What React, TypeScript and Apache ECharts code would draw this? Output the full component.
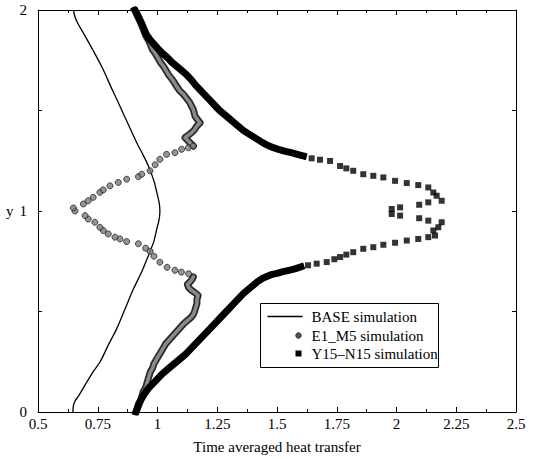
import React, { useEffect, useRef } from "react";
import * as echarts from "echarts";

// BASE simulation: [heat transfer, y]
const baseData: number[][] = [
  [0.646, 0.0], [0.648, 0.03], [0.655, 0.055], [0.67, 0.08], [0.69, 0.12], [0.725, 0.19],
  [0.76, 0.25], [0.795, 0.335], [0.83, 0.416], [0.865, 0.515], [0.9, 0.614], [0.935, 0.7],
  [0.962, 0.779], [0.985, 0.85], [0.997, 0.911], [1.007, 0.96], [1.01, 1.0], [1.007, 1.04],
  [0.997, 1.093], [0.985, 1.15], [0.962, 1.224], [0.935, 1.29], [0.913, 1.34], [0.878, 1.43],
  [0.843, 1.521], [0.808, 1.61], [0.773, 1.703], [0.73, 1.8], [0.69, 1.885], [0.668, 1.93],
  [0.655, 1.965], [0.648, 2.0],
];

// E1_M5 simulation: lower part (densely packed points)
const e1Lower: number[][] = [
  [0.91, 0.0], [0.915, 0.02], [0.92, 0.04], [0.93, 0.06], [0.935, 0.08], [0.94, 0.1],
  [0.95, 0.12], [0.955, 0.14], [0.96, 0.16], [0.965, 0.18], [0.97, 0.2], [0.98, 0.22],
  [0.985, 0.24], [0.995, 0.26], [1.005, 0.28], [1.015, 0.3], [1.025, 0.32], [1.035, 0.34],
  [1.05, 0.36], [1.065, 0.38], [1.08, 0.4], [1.095, 0.42], [1.11, 0.44], [1.125, 0.455],
  [1.14, 0.47], [1.15, 0.485], [1.155, 0.5], [1.16, 0.52], [1.165, 0.54], [1.165, 0.56],
  [1.17, 0.58], [1.155, 0.595], [1.143, 0.605], [1.13, 0.62], [1.125, 0.635], [1.136, 0.647],
  [1.145, 0.66], [1.15, 0.672],
];
// E1_M5 simulation: dotted arc around the centre
const e1Middle: number[][] = [
  [1.13, 0.688], [1.1, 0.696], [1.073, 0.705], [1.04, 0.72], [1.01, 0.745], [0.985, 0.775],
  [0.969, 0.8], [0.95, 0.815], [0.92, 0.837], [0.871, 0.848], [0.843, 0.861], [0.822, 0.87],
  [0.794, 0.886], [0.773, 0.903], [0.759, 0.919], [0.738, 0.944], [0.71, 0.96], [0.697, 0.977],
  [0.655, 1.0], [0.648, 1.015], [0.69, 1.035], [0.71, 1.051], [0.731, 1.068], [0.759, 1.093],
  [0.773, 1.105], [0.801, 1.125], [0.836, 1.142], [0.871, 1.158], [0.92, 1.171], [0.934, 1.183],
  [0.969, 1.2], [0.99, 1.23], [1.01, 1.257], [1.038, 1.282], [1.073, 1.29], [1.101, 1.307],
  [1.129, 1.315], [1.15, 1.323],
];
// E1_M5 simulation: upper part (densely packed points)
const e1Upper: number[][] = [
  [1.15, 1.323], [1.14, 1.335], [1.129, 1.348], [1.115, 1.365], [1.13, 1.378], [1.143, 1.39],
  [1.155, 1.405], [1.164, 1.422], [1.178, 1.439], [1.167, 1.455], [1.157, 1.472], [1.153, 1.49],
  [1.15, 1.505], [1.143, 1.52], [1.136, 1.538], [1.125, 1.555], [1.115, 1.571], [1.105, 1.585],
  [1.092, 1.6], [1.08, 1.62], [1.07, 1.64], [1.058, 1.66], [1.045, 1.68], [1.035, 1.7],
  [1.025, 1.72], [1.012, 1.74], [1.0, 1.765], [0.99, 1.785], [0.978, 1.805], [0.97, 1.83],
  [0.962, 1.85], [0.952, 1.87], [0.945, 1.89], [0.937, 1.915], [0.928, 1.94], [0.92, 1.96],
  [0.912, 1.98], [0.905, 2.0],
];

// Y15-N15 simulation: lower part (densely packed points)
const y15Lower: number[][] = [
  [0.91, 0.0], [0.92, 0.03], [0.93, 0.06], [0.945, 0.09], [0.96, 0.115], [0.98, 0.14],
  [1.0, 0.165], [1.02, 0.19], [1.045, 0.215], [1.07, 0.24], [1.095, 0.265], [1.12, 0.29],
  [1.14, 0.315], [1.16, 0.34], [1.18, 0.365], [1.2, 0.39], [1.22, 0.415], [1.24, 0.44],
  [1.26, 0.465], [1.28, 0.49], [1.3, 0.515], [1.32, 0.54], [1.34, 0.565], [1.36, 0.59],
  [1.38, 0.61], [1.4, 0.63], [1.42, 0.65], [1.44, 0.665], [1.46, 0.675], [1.48, 0.685],
  [1.5, 0.69], [1.525, 0.698], [1.55, 0.705], [1.575, 0.712], [1.6, 0.722],
];
// Y15-N15 simulation: sparse part near the peak
const y15Middle: number[][] = [
  [1.63, 0.73], [1.666, 0.738], [1.708, 0.746], [1.74, 0.76], [1.764, 0.771], [1.79, 0.783],
  [1.819, 0.795], [1.861, 0.812], [1.903, 0.82], [1.945, 0.832], [1.994, 0.842], [2.043, 0.853],
  [2.091, 0.861], [2.133, 0.87], [2.161, 0.878], [2.154, 0.903], [2.175, 0.919], [2.189, 0.944],
  [2.133, 0.952], [2.095, 0.964], [2.015, 0.977], [1.98, 0.985], [1.98, 1.01], [2.015, 1.018],
  [2.095, 1.031], [2.133, 1.043], [2.189, 1.051], [2.168, 1.076], [2.154, 1.092], [2.133, 1.117],
  [2.091, 1.129], [2.043, 1.139], [1.994, 1.15], [1.945, 1.167], [1.903, 1.175], [1.861, 1.183],
  [1.819, 1.2], [1.79, 1.212], [1.764, 1.224], [1.722, 1.249], [1.68, 1.255], [1.645, 1.262],
  [1.61, 1.274],
];
// Y15-N15 simulation: upper part (densely packed points)
const y15Upper: number[][] = [
  [1.61, 1.274], [1.585, 1.282], [1.56, 1.29], [1.535, 1.297], [1.51, 1.305], [1.485, 1.315],
  [1.46, 1.327], [1.44, 1.34], [1.42, 1.355], [1.4, 1.37], [1.38, 1.385], [1.36, 1.4],
  [1.34, 1.42], [1.32, 1.44], [1.3, 1.46], [1.28, 1.48], [1.26, 1.5], [1.24, 1.525],
  [1.22, 1.55], [1.2, 1.575], [1.18, 1.6], [1.16, 1.625], [1.14, 1.655], [1.12, 1.68],
  [1.1, 1.7], [1.08, 1.72], [1.06, 1.74], [1.04, 1.765], [1.02, 1.785], [1.0, 1.81],
  [0.985, 1.83], [0.97, 1.85], [0.955, 1.875], [0.945, 1.9], [0.935, 1.93], [0.925, 1.955],
  [0.915, 1.98], [0.905, 2.0],
];

const legendLabels = ["BASE simulation", "E1_M5 simulation", "Y15\u2013N15 simulation"];
const xTitle = "Time averaged heat transfer";
const yTitle = "y";

const FONT = "Liberation Serif";

export default function App() {
  const ref = useRef<HTMLDivElement>(null);
  useEffect(() => {
    if (!ref.current) return;
    const chart = echarts.init(ref.current, undefined, { renderer: "svg" });
    const axisCommon = {
      type: "value" as const,
      axisLine: { show: true, onZero: false, lineStyle: { color: "#000", width: 1 } },
      splitLine: { show: false },
    };
    const e1Dots = {
      type: "scatter" as const,
      symbol: "circle",
      symbolSize: 6,
      itemStyle: { color: "#7a7a7a", borderColor: "#222", borderWidth: 1 },
      z: 3,
    };
    const e1BandOuter = {
      type: "line" as const,
      showSymbol: false,
      lineStyle: { color: "#2a2a2a", width: 7, cap: "round", join: "round" },
      z: 3,
    };
    const e1BandInner = {
      type: "line" as const,
      showSymbol: false,
      lineStyle: { color: "#8a8a8a", width: 3.5, cap: "round", join: "round" },
      z: 3,
    };
    const y15Dots = {
      type: "scatter" as const,
      symbol: "rect",
      symbolSize: 6,
      itemStyle: { color: "#000" },
      z: 4,
    };
    const y15Band = {
      type: "line" as const,
      showSymbol: false,
      lineStyle: { color: "#000", width: 7, cap: "square", join: "round" },
      z: 4,
    };
    chart.setOption({
      animation: false,
      backgroundColor: "#fff",
      textStyle: { fontFamily: FONT },
      grid: { left: 38, right: 18, top: 10, bottom: 45 },
      xAxis: [
        {
          ...axisCommon,
          position: "bottom",
          min: 0.5,
          max: 2.5,
          interval: 0.25,
          axisTick: { show: true, inside: true, length: 5, lineStyle: { color: "#000" } },
          minorTick: { show: true, splitNumber: 2, length: 3, lineStyle: { color: "#000" } },
          axisLabel: { color: "#000", fontSize: 15, fontFamily: FONT, margin: 4 },
          name: xTitle,
          nameLocation: "middle",
          nameGap: 27,
          nameTextStyle: { color: "#000", fontSize: 15, fontFamily: FONT },
        },
        {
          ...axisCommon,
          position: "top",
          min: 0.5,
          max: 2.5,
          interval: 0.25,
          axisTick: { show: true, inside: true, length: 5, lineStyle: { color: "#000" } },
          minorTick: { show: true, splitNumber: 2, length: 3, lineStyle: { color: "#000" } },
          axisLabel: { show: false },
        },
      ],
      yAxis: [
        {
          ...axisCommon,
          position: "left",
          min: 0,
          max: 2,
          interval: 0.5,
          axisTick: { show: true, inside: true, length: 4, lineStyle: { color: "#000" } },
          axisLabel: {
            color: "#000",
            fontSize: 15,
            fontFamily: FONT,
            margin: 11,
            formatter: (v: number) => (Number.isInteger(v) ? String(v) : ""),
          },
          name: yTitle,
          nameLocation: "middle",
          nameRotate: 0,
          nameGap: 22,
          nameTextStyle: { color: "#000", fontSize: 15, fontFamily: FONT },
        },
        {
          ...axisCommon,
          position: "right",
          min: 0,
          max: 2,
          interval: 0.5,
          axisTick: { show: true, inside: true, length: 4, lineStyle: { color: "#000" } },
          axisLabel: { show: false },
        },
      ],
      series: [
        {
          name: legendLabels[0],
          type: "line",
          data: baseData,
          smooth: 0.3,
          showSymbol: false,
          lineStyle: { color: "#000", width: 1.3 },
          z: 2,
        },
        { ...e1BandOuter, name: legendLabels[1], data: e1Lower },
        { ...e1BandInner, name: legendLabels[1], data: e1Lower },
        { ...e1Dots, name: legendLabels[1], data: e1Middle },
        { ...e1BandOuter, name: legendLabels[1], data: e1Upper },
        { ...e1BandInner, name: legendLabels[1], data: e1Upper },
        { ...y15Band, name: legendLabels[2], data: y15Lower },
        { ...y15Dots, name: legendLabels[2], data: y15Middle },
        { ...y15Band, name: legendLabels[2], data: y15Upper },
      ],
      graphic: [
        {
          type: "group",
          left: 260,
          top: 303,
          z: 100,
          children: [
            {
              type: "rect",
              shape: { x: 0, y: 0, width: 178, height: 64 },
              style: { fill: "#fff", stroke: "#000", lineWidth: 1 },
            },
            {
              type: "line",
              shape: { x1: 7, y1: 13, x2: 42, y2: 13 },
              style: { stroke: "#000", lineWidth: 1.3 },
            },
            {
              type: "circle",
              shape: { cx: 38, cy: 32, r: 2.7 },
              style: { fill: "#555", stroke: "#222", lineWidth: 1 },
            },
            {
              type: "rect",
              shape: { x: 35, y: 47, width: 6, height: 6 },
              style: { fill: "#000" },
            },
            {
              type: "text",
              x: 51,
              y: 13,
              style: { text: legendLabels[0], fontSize: 15, fontFamily: FONT, fill: "#000", verticalAlign: "middle" },
            },
            {
              type: "text",
              x: 51,
              y: 32,
              style: { text: legendLabels[1], fontSize: 15, fontFamily: FONT, fill: "#000", verticalAlign: "middle" },
            },
            {
              type: "text",
              x: 51,
              y: 50,
              style: { text: legendLabels[2], fontSize: 15, fontFamily: FONT, fill: "#000", verticalAlign: "middle" },
            },
          ],
        },
      ],
    });
    return () => chart.dispose();
  }, []);
  return (
    <div
      ref={ref}
      style={{ position: "absolute", left: 0, top: 0, width: 534, height: 459 }}
    />
  );
}
